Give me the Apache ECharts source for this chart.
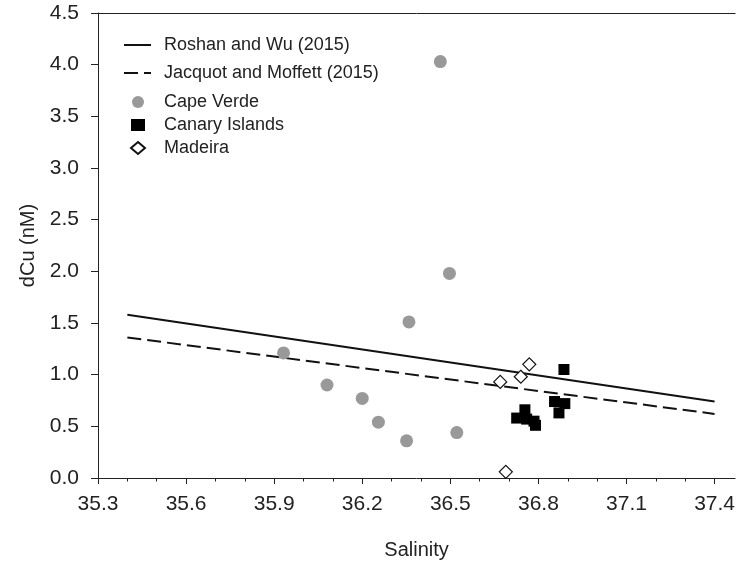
<!DOCTYPE html>
<html>
<head>
<meta charset="utf-8">
<script src="https://cdn.jsdelivr.net/npm/echarts@6/dist/echarts.min.js"></script>
<style>
  html, body { margin: 0; padding: 0; background: #fff; }
  #chart { width: 738px; height: 565px; }
</style>
</head>
<body>
<div id="chart"></div>
<script>
// tick values
const xMajor = [35.3, 35.6, 35.9, 36.2, 36.5, 36.8, 37.1, 37.4];
const xMinor = [35.4, 35.5, 35.7, 35.8, 36.0, 36.1, 36.3, 36.4, 36.6, 36.7, 36.9, 37.0, 37.2, 37.3];

// regression lines (salinity, dCu)
const roshanWu = [[35.4, 1.58], [37.4, 0.74]];
const jacquotMoffett = [[35.4, 1.36], [37.4, 0.62]];

// stations (salinity, dCu)
const capeVerde = [
  [36.466, 4.03], [36.497, 1.98], [36.359, 1.51], [35.932, 1.21], [36.080, 0.90],
  [36.200, 0.77], [36.255, 0.54], [36.351, 0.36], [36.522, 0.44]
];
const canaryIslands = [
  [36.887, 1.05], [36.855, 0.74], [36.890, 0.72], [36.870, 0.63],
  [36.726, 0.58], [36.754, 0.66], [36.760, 0.57], [36.785, 0.55], [36.790, 0.51]
];
const madeira = [
  [36.769, 1.10], [36.740, 0.98], [36.670, 0.93], [36.689, 0.06]
];

const FONT = 'Liberation Sans, Arial, sans-serif';
const AXIS_COLOR = '#222';

const chart = echarts.init(document.getElementById('chart'));

const option = {
  animation: false,
  backgroundColor: '#fff',
  textStyle: { fontFamily: FONT, color: '#222' },
  grid: { left: 98, right: 0, top: 13, bottom: 87 },
  legend: [
    {
      orient: 'vertical',
      left: 118,
      top: 31,
      itemWidth: 27,
      itemHeight: 12,
      itemGap: 10,
      itemStyle: { opacity: 0 },
      textStyle: { fontSize: 18, color: '#222', padding: [0, 0, 0, 8] },
      data: ['Roshan and Wu (2015)', 'Jacquot and Moffett (2015)']
    },
    {
      orient: 'vertical',
      left: 125,
      top: 88,
      itemWidth: 14,
      itemHeight: 12,
      itemGap: 5,
      textStyle: { fontSize: 18, color: '#222', padding: [0, 0, 0, 14] },
      data: ['Cape Verde', 'Canary Islands', 'Madeira']
    }
  ],
  xAxis: [
    {
      type: 'value',
      position: 'bottom',
      min: 35.3,
      max: 37.47,
      interval: 0.3,
      name: 'Salinity',
      nameLocation: 'middle',
      nameGap: 62,
      nameTextStyle: { fontSize: 20, color: '#222' },
      axisLine: { show: true, lineStyle: { color: AXIS_COLOR, width: 1 } },
      axisTick: { show: true, inside: false, length: 6, customValues: xMajor, lineStyle: { color: AXIS_COLOR } },
      axisLabel: {
        customValues: xMajor,
        fontSize: 21,
        color: '#222',
        margin: 16,
        formatter: (v) => v.toFixed(1)
      },
      splitLine: { show: false }
    },
    {
      type: 'value',
      position: 'bottom',
      min: 35.3,
      max: 37.47,
      interval: 0.1,
      axisLine: { show: false },
      axisTick: { show: true, inside: false, length: 3.5, customValues: xMinor, lineStyle: { color: AXIS_COLOR } },
      axisLabel: { show: false },
      splitLine: { show: false }
    },
    {
      type: 'value',
      position: 'top',
      min: 35.3,
      max: 37.47,
      axisLine: { show: true, lineStyle: { color: AXIS_COLOR, width: 1 } },
      axisTick: { show: false },
      axisLabel: { show: false },
      splitLine: { show: false }
    }
  ],
  yAxis: {
    type: 'value',
    min: 0,
    max: 4.5,
    interval: 0.5,
    name: 'dCu (nM)',
    nameLocation: 'middle',
    nameGap: 60,
    nameTextStyle: { fontSize: 20, color: '#222' },
    axisLine: { show: true, lineStyle: { color: AXIS_COLOR, width: 1 } },
    axisTick: { show: true, inside: false, length: 7, lineStyle: { color: AXIS_COLOR } },
    axisLabel: {
      fontSize: 21,
      color: '#222',
      margin: 19,
      formatter: (v) => v.toFixed(1)
    },
    splitLine: { show: false }
  },
  series: [
    {
      name: 'Roshan and Wu (2015)',
      type: 'line',
      data: roshanWu,
      symbol: 'none',
      lineStyle: { color: '#111', width: 2, type: 'solid' },
      itemStyle: { color: '#111' },
      z: 2
    },
    {
      name: 'Jacquot and Moffett (2015)',
      type: 'line',
      data: jacquotMoffett,
      symbol: 'none',
      lineStyle: { color: '#111', width: 2, type: [14, 6] },
      itemStyle: { color: '#111' },
      z: 2
    },
    {
      name: 'Cape Verde',
      type: 'scatter',
      data: capeVerde,
      symbol: 'circle',
      symbolSize: 13,
      itemStyle: { color: '#999', opacity: 1 },
      z: 3
    },
    {
      name: 'Canary Islands',
      type: 'scatter',
      data: canaryIslands,
      symbol: 'rect',
      symbolSize: 11,
      itemStyle: { color: '#000', opacity: 1 },
      z: 3
    },
    {
      name: 'Madeira',
      type: 'scatter',
      data: madeira,
      symbol: 'diamond',
      symbolSize: 13,
      itemStyle: { color: '#fff', borderColor: '#111', borderWidth: 1.2, opacity: 1 },
      z: 4
    }
  ]
};

chart.setOption(option);

window.addEventListener('resize', () => {
  chart.resize();
});
</script>
</body>
</html>
